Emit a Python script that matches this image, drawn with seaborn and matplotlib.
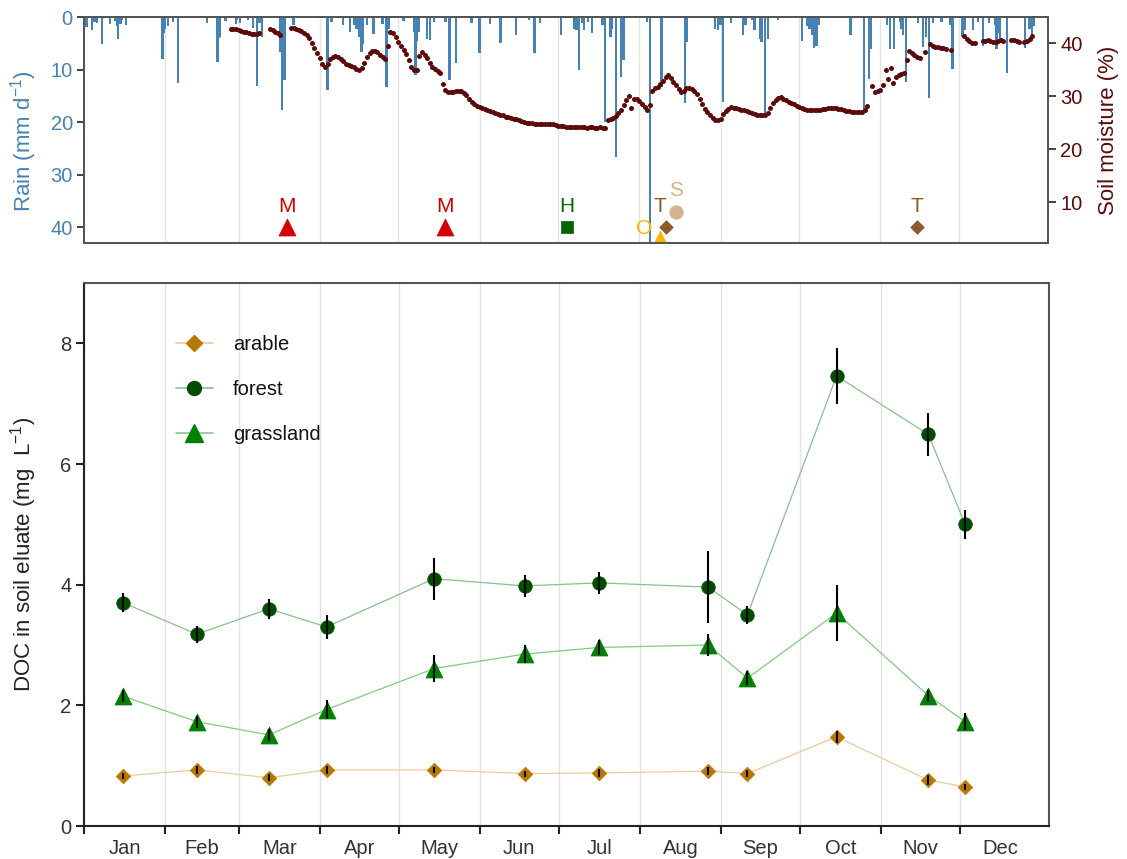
import numpy as np
import pandas as pd
import matplotlib
matplotlib.use("Agg")
import matplotlib.pyplot as plt
from matplotlib.lines import Line2D
import seaborn as sns

# ── Data ────────────────────────────────────────────────────────────────────
# x positions are day of year (0 = 1 Jan)
month_names = ["Jan", "Feb", "Mar", "Apr", "May", "Jun",
               "Jul", "Aug", "Sep", "Oct", "Nov", "Dec"]
month_len = [31, 28, 31, 30, 31, 30, 31, 31, 30, 31, 30, 31]

# daily rain (mm/d), only rainy days
rain_day = [1, 3, 4, 5, 7, 10, 12, 12.5, 13, 14, 14.5, 16,
            30, 30.5, 31, 32, 34, 36, 47, 51, 51.5, 52, 54, 58, 58.5, 59.5,
            62.5, 64.5, 66, 67, 68, 75, 75.5, 76, 76.5, 80, 93,
            94.5, 99, 101.5, 103, 104, 105, 106, 106.5, 108, 110.5, 114, 115.5, 116.5,
            122, 126, 126.5, 127, 128, 131, 132, 133.5, 138, 139.5, 142, 148, 151,
            155, 159, 165, 170, 172, 174, 182,
            187, 188, 189, 190, 191, 192.5, 194, 198, 199, 201, 201.5, 203, 205, 206,
            215, 216, 220.5, 229.5, 230, 241, 242, 243, 244, 247, 251.5, 252.5,
            255, 256, 258, 258.6, 260, 261, 265, 274,
            276, 277, 278, 278.6, 279.6, 280.6, 292.6, 297.7, 299.6, 300.4,
            306.6, 307.6, 309.3, 311.5, 312.1, 312.7, 313.7, 318.4, 320.3, 321.4,
            322.6, 324, 327.3, 330.5, 331.6, 335.4, 336.3, 339.4, 341.3, 343.2,
            345.5, 347.7, 348.3, 349, 349.6, 352.4, 359.2, 361, 362, 362.7]
rain_mm = [1.9, 2.4, 0.9, 1.2, 5.1, 1.3, 0.7, 1.8, 4.1, 1.3, 0.6, 1.5,
           7.9, 3.1, 2.2, 1.7, 0.9, 12.6, 1.2, 8.5, 3.9, 3.8, 0.7, 1.3, 0.6, 1.2,
           0.5, 2.0, 13.1, 1.2, 3.8, 6.6, 17.7, 2.5, 11.9, 1.5, 13.9,
           0.9, 1.5, 2.8, 1.5, 2.2, 3.8, 6.6, 5.1, 1.5, 3.2, 1.3, 13.4, 2.2,
           0.7, 2.8, 11.0, 4.5, 2.8, 4.1, 4.3, 0.9, 0.9, 11.9, 8.7, 1.1, 6.9,
           1.3, 4.9, 3.4, 0.5, 6.9, 1.1, 3.4,
           2.2, 2.5, 10.0, 1.2, 2.5, 0.9, 3.0, 1.5, 19.9, 3.8, 2.2, 26.6, 11.4, 8.2,
           0.9, 46.0, 13.3, 16.4, 4.7, 2.2, 2.5, 1.5, 16.1, 1.2, 3.4, 1.5,
           0.6, 2.5, 4.1, 4.7, 19.3, 4.1, 0.5, 4.5,
           1.8, 2.2, 3.4, 5.9, 5.6, 1.5, 3.4, 17.7, 11.7, 6.0,
           1.5, 6.0, 6.0, 0.9, 2.2, 3.4, 12.3, 1.1, 5.7, 3.8,
           15.5, 1.2, 0.9, 1.5, 9.8, 3.8, 2.5, 2.5, 0.9, 5.6,
           1.1, 1.5, 6.0, 3.0, 4.5, 10.6, 5.9, 2.2, 4.1, 1.8]

# daily soil moisture (%), starting 26 Feb (day 56); nan = no reading
soil_start = 56
soil_moisture = [
    42.8, 42.8, 42.7, 42.6, 42.4, 42.2, 42.1, 41.9, 41.8, 41.8, 41.8, 41.9,
    np.nan, np.nan, np.nan,
    42.8, 42.6, 42.2, 41.9, 41.6,
    np.nan, np.nan, np.nan,
    43.0, 42.9, 42.8, 42.6, 42.3, 42.0, 41.6,
    41.0, 40.1, 39.2, 38.2, 37.2, 36.2, 35.6, 36.2, 37.0, 37.4,
    37.6, 37.5, 37.1, 36.6, 36.2, 35.9, 35.7, 35.5, 35.2, 35.0,
    35.4, 36.4, 37.4, 38.2, 38.5, 38.5, 38.3, 37.9, 37.5, 37.1,
    39.5, 42.1, 42.0, 41.3, 40.2, 39.5, 38.7, 38.0, 36.8, 35.5,
    35.0, 35.0, 37.7, 38.4, 37.9, 37.2, 36.4, 35.6, 35.1, 34.8,
    34.5, 32.4, 31.2, 30.9, 30.9, 30.9, 31.0, 31.1, 31.0, 30.7,
    30.3, 29.6, 28.9, 28.5, 28.2, 28.0, 27.8, 27.6, 27.4, 27.2,
    27.1, 26.9, 26.7, 26.5, 26.4, 26.2, 26.1, 25.9, 25.8, 25.7,
    25.5, 25.3, 25.1, 25.0, 24.9, 24.9, 24.8, 24.8, 24.8, 24.8,
    24.7, 24.7, 24.7, 24.7, 24.6, 24.5, 24.5, 24.4, 24.3, 24.3,
    24.3, 24.2, 24.2, 24.3, 24.2, 24.2, 24.1, 24.2, 24.2, 24.1, 24.1, 24.2, 24.1, 24.1,
    25.6, 25.7, 26.0, 26.3, 26.9, 27.5, 28.3, 29.4, 30.0, 27.9,
    29.6, 29.5, 29.1, 28.6, 28.0, 27.4, 28.4, 31.1, 31.5, 31.8,
    32.4, 33.0, 33.7, 34.0, 33.5, 32.8, 32.1, 31.4, 30.8, 31.1,
    31.5, 31.6, 31.4, 31.1, 30.4, 29.6, 28.6, 27.7, 27.0, 26.4,
    25.9, 25.5, 25.5, 25.8, 26.6, 27.3, 27.7, 28.0, 27.9, 27.8,
    27.7, 27.5, 27.4, 27.2, 27.0, 26.8, 26.7, 26.5, 26.4, 26.4,
    26.4, 26.9, 27.9, 28.8, 29.3, 29.7, 29.8, 29.6, 29.3, 29.0,
    28.8, 28.5, 28.2, 28.0, 27.8, 27.6, 27.4, 27.4, 27.4, 27.4,
    27.5, 27.5, 27.6, 27.7, 27.8, 27.9, 27.9, 27.8, 27.7, 27.6,
    27.4, 27.3, 27.2, 27.1, 27.1, 27.0, 27.0, 27.1, 27.4, 28.1,
    np.nan, 31.9, 30.8, 31.0, 31.3, 32.1, 34.9, 33.3, 35.4, 32.5,
    33.6, 34.0, 34.3, 34.4, 36.8, 38.5, 38.2, 37.8, 37.5, 37.3,
    np.nan, 38.4, np.nan, 39.9, 39.6, 39.4, 39.3, 39.2, 39.2, 39.0,
    np.nan, 38.7, np.nan, np.nan, np.nan, np.nan, 41.5, 40.8, 40.4, 40.1,
    40.1, np.nan, np.nan, 40.4, 40.5, 40.6, 40.5, 40.3, 40.3, 40.5,
    40.6, 40.5, np.nan, np.nan, 40.7, 40.6, 40.5, 40.3, np.nan, 40.2,
    40.4, 40.8, 41.5,
]

# management events: M mowing, H harvest, O ?, T tillage, S sowing
event_label = ["M", "M", "H", "O", "T", "S", "T"]
event_day = [77.5, 138, 184.5, 220, 222, 226, 318]

# DOC in soil eluate (mg/L), mean and error per sampling date
sample_day = [15, 43, 70.5, 92.5, 133.5, 168, 196.5, 238, 253, 287, 322, 336]
doc_arable = [0.83, 0.93, 0.80, 0.93, 0.93, 0.87, 0.88, 0.91, 0.87, 1.48, 0.76, 0.65]
err_arable = [0.05, 0.06, 0.06, 0.06, 0.05, 0.05, 0.06, 0.06, 0.06, 0.10, 0.08, 0.05]
doc_forest = [3.70, 3.18, 3.60, 3.30, 4.10, 3.98, 4.03, 3.96, 3.50, 7.46, 6.49, 5.00]
err_forest = [0.16, 0.14, 0.17, 0.20, 0.35, 0.18, 0.18, 0.60, 0.15, 0.46, 0.35, 0.24]
doc_grass = [2.15, 1.73, 1.51, 1.93, 2.61, 2.85, 2.96, 3.00, 2.45, 3.53, 2.16, 1.73]
err_grass = [0.10, 0.10, 0.10, 0.16, 0.22, 0.15, 0.12, 0.18, 0.12, 0.47, 0.10, 0.14]

# ── Styling ────────────────────────────────────────────────────────────────
RAIN_COL = "#4682B4"
SOIL_COL = "#5C0A0A"
sites = {
    "arable": dict(y=doc_arable, e=err_arable, marker="D", s=55, ms=8,
                   col="#B87700", line="#EBCB9B"),
    "forest": dict(y=doc_forest, e=err_forest, marker="o", s=95, ms=10,
                   col="#004D00", line="#8CBF8C"),
    "grassland": dict(y=doc_grass, e=err_grass, marker="^", s=150, ms=12.5,
                      col="#008000", line="#80CC80"),
}
event_style = {
    "M": dict(marker="^", s=150, col="#D40000"),
    "H": dict(marker="s", s=85, col="#006400"),
    "O": dict(marker="^", s=140, col="#FFB300"),
    "T": dict(marker="D", s=48, col="#8B5A2B"),
    "S": dict(marker="o", s=95, col="#D2B48C"),
}
# rain-axis height of each event marker, and label offset (days, mm)
event_y = [40, 40, 40, 42.3, 40, 37.1, 40]
label_off = [(0, -4), (0, -4), (0, -4), (-6, -2.1), (-2, -4), (0, -4), (0, -4)]

sns.set_theme(style="white")
plt.rcParams["font.family"] = ["Liberation Sans", "DejaVu Sans"]
plt.rcParams["mathtext.default"] = "regular"

month_start = np.cumsum([0] + month_len[:-1])
month_mid = month_start + np.array(month_len) / 2.0
XMAX = 368

fig = plt.figure(figsize=(11.27, 8.59), dpi=100)
ax_r = fig.add_axes([0.0745, 0.7171, 0.8554, 0.2631])
ax_s = ax_r.twinx()
ax = fig.add_axes([0.0745, 0.0384, 0.8563, 0.6321])

# ── Top panel: rain + soil moisture + events ────────────────────────────────
ax_r.set_axisbelow(True)
ax_r.bar(rain_day, rain_mm, width=0.9, color=RAIN_COL, linewidth=0, zorder=2)
ax_r.set_ylim(43, 0)
ax_r.set_xlim(0, XMAX)
ax_r.set_xticks(month_start)
ax_r.tick_params(axis="x", length=0, labelbottom=False)
ax_r.grid(axis="x", color="#E3E3E3", lw=1)
ax_r.set_yticks([0, 10, 20, 30, 40])
ax_r.tick_params(axis="y", left=True, length=5, width=1.3, color="#333333",
                 labelsize=14.5, labelcolor=RAIN_COL, pad=3)
ax_r.set_ylabel("Rain (mm d$^{-1}$)", color=RAIN_COL, fontsize=16)
ax_r.yaxis.set_label_coords(-0.047, 0.45)

for lab, d, y, off in zip(event_label, event_day, event_y, label_off):
    st = event_style[lab]
    sns.scatterplot(x=[d], y=[y], ax=ax_r, marker=st["marker"], s=st["s"],
                    color=st["col"], edgecolor=st["col"], linewidth=0.5,
                    zorder=4, legend=False)
    ax_r.text(d + off[0], y + off[1], lab, color=st["col"], fontsize=15,
              ha="center", va="center", zorder=4)

soil_x = soil_start + np.arange(len(soil_moisture))
soil_df = pd.DataFrame({"day": soil_x, "sm": soil_moisture}).dropna()
sns.scatterplot(data=soil_df, x="day", y="sm", ax=ax_s, s=13, color=SOIL_COL,
                linewidth=0, legend=False)
ax_s.set_ylim(2.3, 45)
ax_s.set_yticks([10, 20, 30, 40])
ax_s.tick_params(axis="y", right=True, length=6, width=1.3, color="#333333",
                 labelsize=14.5, labelcolor=SOIL_COL, pad=3)
ax_s.set_ylabel("Soil moisture (%)", color=SOIL_COL, fontsize=16, rotation=90)
ax_s.yaxis.set_label_coords(1.052, 0.5)
ax_s.set_xlabel("")
ax_r.set_xlabel("")

for a in (ax_r, ax_s):
    for sp in a.spines.values():
        sp.set_color("#555555")
        sp.set_linewidth(1.4)

# ── Bottom panel: DOC ───────────────────────────────────────────────────────
ax.set_axisbelow(True)
ax.grid(axis="x", which="major", color="#E3E3E3", lw=1)
handles = []
for name, st in sites.items():
    df = pd.DataFrame({"day": sample_day, "doc": st["y"], "err": st["e"]})
    sns.lineplot(data=df, x="day", y="doc", ax=ax, color=st["line"], lw=0.9,
                 errorbar=None, zorder=2)
    sns.scatterplot(data=df, x="day", y="doc", ax=ax, marker=st["marker"],
                    s=st["s"], color=st["col"], edgecolor=st["col"],
                    linewidth=0.5, zorder=3, legend=False)
    ax.errorbar(df["day"], df["doc"], yerr=df["err"], fmt="none",
                ecolor="black", elinewidth=1.5, capsize=0, zorder=4)
    handles.append(Line2D([0], [0], color=st["line"], lw=1.2,
                          marker=st["marker"], markersize=st["ms"],
                          markerfacecolor=st["col"], markeredgecolor=st["col"],
                          label=name))

ax.set_xlim(0, XMAX)
ax.set_ylim(0, 9)
ax.set_yticks([0, 2, 4, 6, 8])
ax.set_xticks(month_start)
ax.set_xticklabels([])
ax.set_xticks(month_mid, minor=True)
ax.set_xticklabels(month_names, minor=True)
ax.tick_params(axis="x", which="major", bottom=True, length=6, width=1.5,
               color="#222222")
ax.tick_params(axis="x", which="minor", bottom=True, length=0, pad=9,
               labelsize=14.5, labelcolor="#333333")
ax.tick_params(axis="y", left=True, length=6, width=1.5, color="#222222",
               labelsize=14.5, labelcolor="#333333", pad=3)
ax.set_xlabel("")
ax.set_ylabel("DOC in soil eluate (mg  L$^{-1}$)", fontsize=16, color="#222222")
ax.yaxis.set_label_coords(-0.047, 0.5)
for side, sp in ax.spines.items():
    sp.set_linewidth(1.5)
    sp.set_color("#222222" if side in ("left", "bottom") else "#555555")

leg = ax.legend(handles=handles, loc="upper left", bbox_to_anchor=(0.095, 0.905),
                frameon=False, fontsize=14.5, handlelength=1.85,
                handletextpad=1.0, labelspacing=1.3, borderaxespad=0,
                borderpad=0)
for t in leg.get_texts():
    t.set_color("#111111")

fig.savefig("out.png", dpi=100)
